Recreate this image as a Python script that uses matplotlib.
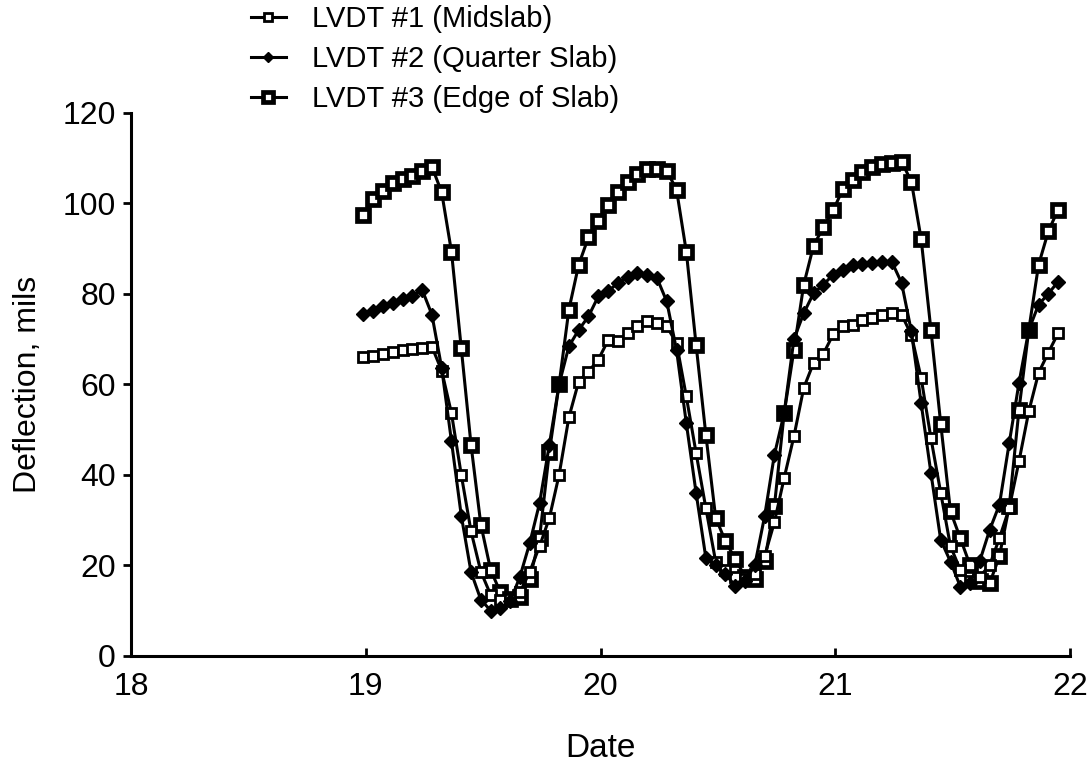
import matplotlib
matplotlib.use("Agg")
import matplotlib.pyplot as plt
import numpy as np

plt.rcParams['font.family'] = ['Liberation Sans', 'DejaVu Sans']

# hourly readings starting 18.99 (day of month)
start_day = 18.99
hour = list(range(72))

lvdt1 = [66, 66.3, 66.7, 67.2, 67.5, 67.8, 68, 68.3,
         63, 53.6, 40, 27.5, 18.6, 13.5, 12.4, 12.5, 14, 18.6, 24.2, 30.4,
         40, 52.7, 60.6, 62.8, 65.4, 69.7, 69.5, 71.3, 72.8, 73.9, 73.5, 72.8,
         69.1, 57.3, 44.8, 32.6, 20.8, 19, 17.5, 17, 18, 22, 29.5, 39.3,
         48.5, 59.2, 64.7, 66.7, 71, 72.8, 73.1, 74.1, 74.6, 75.4, 75.7, 75.4,
         70.9, 61.4, 48.1, 36, 24.2, 19, 16.5, 17.5, 20, 26, 32.6, 43,
         54, 62.5, 67, 71.3]

lvdt2 = [75.6, 76.3, 77.2, 78, 78.8, 79.4, 80.9, 75.4,
         63.6, 47.4, 31, 18.5, 12.4, 10, 10.5, 12, 17.5, 24.9, 33.7, 46.6,
         60, 68.4, 72, 75, 79.4, 80.5, 82.4, 83.8, 84.6, 84.2, 83.5, 78.3,
         67.6, 51.4, 36, 21.6, 20, 18, 15.5, 16.5, 20, 30.8, 44.4, 53.6,
         70, 75.7, 80.1, 82, 84.2, 85.3, 86.4, 86.6, 86.9, 87.1, 87.1, 82.4,
         71.7, 55.8, 40.4, 25.6, 20.8, 15.3, 16, 21, 27.8, 33.4, 47, 60.3,
         72, 77.6, 80, 82.7]

lvdt3 = [97.5, 101, 102.8, 104.5, 105.3, 106.1, 107.2, 108.1,
         102.4, 89.3, 68, 46.6, 29, 19, 14, 12.5, 13, 17, 26, 45,
         60, 76.5, 86.4, 92.5, 96.1, 99.7, 102.5, 104.6, 106.5, 107.6, 107.6, 107.2,
         103, 89.3, 68.7, 48.8, 30.5, 25.3, 21.4, 17.5, 17, 21, 33, 53.6,
         67.6, 82, 90.6, 94.7, 98.4, 103.1, 105.2, 107, 108.1, 108.7, 108.8, 109.2,
         104.8, 92.1, 72, 51.3, 31.9, 26, 20, 16.5, 16, 22, 33, 54.4,
         72, 86.4, 93.8, 98.6]

labels = ["LVDT #1 (Midslab)", "LVDT #2 (Quarter Slab)", "LVDT #3 (Edge of Slab)"]
x_ticks = [18, 19, 20, 21, 22]
y_ticks = [0, 20, 40, 60, 80, 100, 120]

day = start_day + np.array(hour) / 24.0

fig = plt.figure(figsize=(10.91, 7.67), dpi=100)
ax = fig.add_axes([0.12, 0.145, 0.861, 0.708])

l1, = ax.plot(day, lvdt1, color='black', lw=2.2, marker='s', ms=6.5,
              mfc='white', mec='black', mew=2.0, zorder=3)
l2, = ax.plot(day, lvdt2, color='black', lw=2.2, marker='D', ms=7,
              mfc='black', mec='black', mew=1, zorder=4)
l3, = ax.plot(day, lvdt3, color='black', lw=2.2, marker='s', ms=9,
              mfc='white', mec='black', mew=3.4, zorder=2)

ax.set_xlim(18, 22)
ax.set_ylim(0, 120)
ax.set_xticks(x_ticks)
ax.set_yticks(y_ticks)
for s in ['top', 'right']:
    ax.spines[s].set_visible(False)
for s in ['left', 'bottom']:
    ax.spines[s].set_linewidth(2.2)
ax.tick_params(axis='x', direction='in', length=6, width=2, labelsize=23, pad=12)
ax.tick_params(axis='y', direction='out', length=6, width=2, labelsize=23, pad=5)
ax.set_xlabel("Date", fontsize=24, labelpad=22)
ax.set_ylabel("Deflection, mils", fontsize=23, labelpad=14)

fig.legend([l1, l2, l3], labels, loc='upper left',
           bbox_to_anchor=(0.206, 1.028), frameon=False, fontsize=21,
           handlelength=1.2, handletextpad=0.9, labelspacing=0.42,
           markerscale=0.8)

fig.savefig("out.png", dpi=100)
